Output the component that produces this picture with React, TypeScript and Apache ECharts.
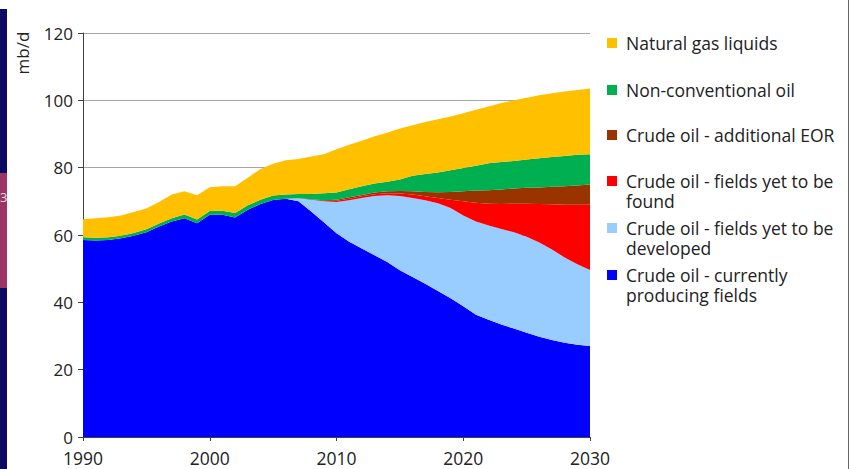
import React, { useEffect, useRef } from "react";
import * as echarts from "echarts";

const years = [
  "1990", "1991", "1992", "1993", "1994", "1995", "1996", "1997", "1998", "1999",
  "2000", "2001", "2002", "2003", "2004", "2005", "2006", "2007", "2008", "2009",
  "2010", "2011", "2012", "2013", "2014", "2015", "2016", "2017", "2018", "2019",
  "2020", "2021", "2022", "2023", "2024", "2025", "2026", "2027", "2028", "2029", "2030",
];

// mb/d per layer (stack order bottom -> top)
const currentlyProducing = [
  58.5, 58.4, 58.5, 59.0, 59.8, 60.8, 62.5, 64.0, 65.0, 63.5,
  66.0, 66.0, 65.2, 67.5, 69.2, 70.4, 70.8, 70.0, 67.0, 63.8,
  60.5, 58.0, 56.0, 54.0, 52.0, 49.5, 47.5, 45.5, 43.4, 41.2,
  38.8, 36.3, 34.8, 33.4, 32.2, 31.0, 29.8, 28.8, 28.0, 27.4, 27.0,
];
const yetToBeDeveloped = [
  0, 0, 0, 0, 0, 0, 0, 0, 0, 0,
  0, 0, 0, 0, 0, 0, 0, 0.9, 3.5, 6.2,
  9.3, 12.3, 15.0, 17.6, 19.8, 22.1, 23.5, 24.8, 26.0, 26.8,
  27.0, 27.7, 28.0, 28.4, 28.6, 28.5, 28.0, 26.9, 25.3, 23.9, 22.6,
];
const yetToBeFound = [
  0, 0, 0, 0, 0, 0, 0, 0, 0, 0,
  0, 0, 0, 0, 0, 0, 0, 0, 0, 0.1,
  0.4, 0.5, 0.5, 0.5, 0.6, 0.7, 1.0, 1.2, 1.6, 2.5,
  4.2, 5.6, 6.5, 7.4, 8.5, 9.8, 11.4, 13.4, 15.7, 17.7, 19.4,
];
const additionalEOR = [
  0, 0, 0, 0, 0, 0, 0, 0, 0, 0,
  0, 0, 0, 0, 0, 0, 0, 0, 0.1, 0.2,
  0.3, 0.4, 0.4, 0.5, 0.6, 0.8, 1.0, 1.3, 1.7, 2.3,
  3.0, 3.6, 4.0, 4.3, 4.5, 4.7, 4.9, 5.2, 5.5, 5.7, 6.0,
];
const nonConventional = [
  0.8, 0.8, 0.8, 0.8, 0.8, 0.9, 0.9, 1.0, 1.1, 1.1,
  1.1, 1.2, 1.3, 1.3, 1.3, 1.3, 1.2, 1.3, 1.6, 2.1,
  2.1, 2.4, 2.6, 2.7, 2.8, 3.4, 4.6, 5.3, 5.9, 6.4,
  6.9, 7.4, 8.0, 8.2, 8.2, 8.4, 8.7, 8.9, 9.0, 9.1, 9.0,
];
const naturalGasLiquids = [
  5.4, 5.8, 6.0, 6.0, 6.2, 6.2, 6.4, 7.0, 6.9, 7.2,
  7.1, 7.3, 8.0, 8.2, 9.1, 9.5, 10.2, 10.4, 11.1, 11.6,
  12.9, 13.2, 13.5, 14.0, 14.6, 15.1, 15.0, 15.5, 15.8, 16.0,
  16.3, 16.6, 16.9, 17.5, 18.0, 18.4, 18.7, 18.9, 19.1, 19.3, 19.5,
];

const seriesNames = [
  "Crude oil - currently producing fields",
  "Crude oil - fields yet to be developed",
  "Crude oil - fields yet to be found",
  "Crude oil - additional EOR",
  "Non-conventional oil",
  "Natural gas liquids",
];
const seriesData = [
  currentlyProducing,
  yetToBeDeveloped,
  yetToBeFound,
  additionalEOR,
  nonConventional,
  naturalGasLiquids,
];
const seriesColors = ["#0000FF", "#99CCFF", "#FF0000", "#993300", "#00B050", "#FFC000"];

// legend (top to bottom), one array entry per printed line
const legendLines = [
  ["Natural gas liquids"],
  ["Non-conventional oil"],
  ["Crude oil - additional EOR"],
  ["Crude oil - fields yet to be", "found"],
  ["Crude oil - fields yet to be", "developed"],
  ["Crude oil - currently", "producing fields"],
];
const legendColors = ["#FFC000", "#00B050", "#993300", "#FF0000", "#99CCFF", "#0000FF"];
const legendRowCenters = [43, 90, 135, 181, 228, 275];

const FONT = "'Open Sans', Lato, sans-serif";

export default function App() {
  const ref = useRef<HTMLDivElement>(null);

  useEffect(() => {
    if (!ref.current) return;
    const chart = echarts.init(ref.current, null, { renderer: "svg" });

    const series = seriesData.map((arr, i) => ({
      name: seriesNames[i],
      type: "line",
      stack: "total",
      symbol: "none",
      showSymbol: false,
      lineStyle: { width: 0, color: seriesColors[i] },
      areaStyle: { color: seriesColors[i], opacity: 1 },
      itemStyle: { color: seriesColors[i] },
      data: arr,
    }));

    const legendGraphics: any[] = [];
    legendLines.forEach((lines, i) => {
      const cy = legendRowCenters[i];
      legendGraphics.push({
        type: "rect",
        shape: { x: 607, y: cy - 5, width: 10, height: 10 },
        style: { fill: legendColors[i] },
      });
      lines.forEach((line, j) => {
        legendGraphics.push({
          type: "text",
          x: 626,
          y: cy + j * 19.5,
          style: {
            text: line,
            font: `17.5px ${FONT}`,
            fill: "#222",
            verticalAlign: "middle",
            align: "left",
          },
        });
      });
    });

    chart.setOption({
      animation: false,
      grid: { left: 83, right: 260, top: 33, bottom: 32, containLabel: false },
      xAxis: {
        type: "category",
        data: years,
        boundaryGap: false,
        splitLine: { show: false },
        axisLine: { show: true, lineStyle: { color: "#404040", width: 1 } },
        axisTick: { show: true, length: 4, interval: 9, lineStyle: { color: "#404040" } },
        axisLabel: {
          color: "#222",
          fontSize: 17.5,
          fontFamily: FONT,
          margin: 12,
          interval: 9,
        },
      },
      yAxis: {
        type: "value",
        min: 0,
        max: 120,
        interval: 20,
        splitLine: { show: true, lineStyle: { color: "#a6a6a6", width: 1 } },
        axisLine: { show: true, lineStyle: { color: "#404040", width: 1 } },
        axisTick: { show: true, length: 5, lineStyle: { color: "#404040" } },
        axisLabel: { color: "#222", fontSize: 17, fontFamily: FONT, margin: 10 },
      },
      series,
      graphic: [
        // slide decoration on the left
        { type: "rect", shape: { x: 0, y: 9, width: 7, height: 460 }, style: { fill: "#0b0b66" } },
        { type: "rect", shape: { x: 0, y: 173, width: 7, height: 115 }, style: { fill: "#9b3566" } },
        {
          type: "text",
          x: 0,
          y: 197,
          style: { text: "3", font: `13px ${FONT}`, fill: "#f0d8e0", verticalAlign: "middle" },
        },
        // right frame line
        { type: "line", shape: { x1: 848.5, y1: 0, x2: 848.5, y2: 469 }, style: { stroke: "#666", lineWidth: 1 } },
        // y axis unit
        {
          type: "text",
          x: 22,
          y: 53,
          rotation: Math.PI / 2,
          style: {
            text: "mb/d",
            font: `17px ${FONT}`,
            fill: "#222",
            align: "center",
            verticalAlign: "middle",
          },
        },
        ...legendGraphics,
      ],
    });

    return () => chart.dispose();
  }, []);

  return (
    <div
      ref={ref}
      style={{ position: "fixed", left: 0, top: 0, width: 850, height: 469, background: "#fff" }}
    />
  );
}
